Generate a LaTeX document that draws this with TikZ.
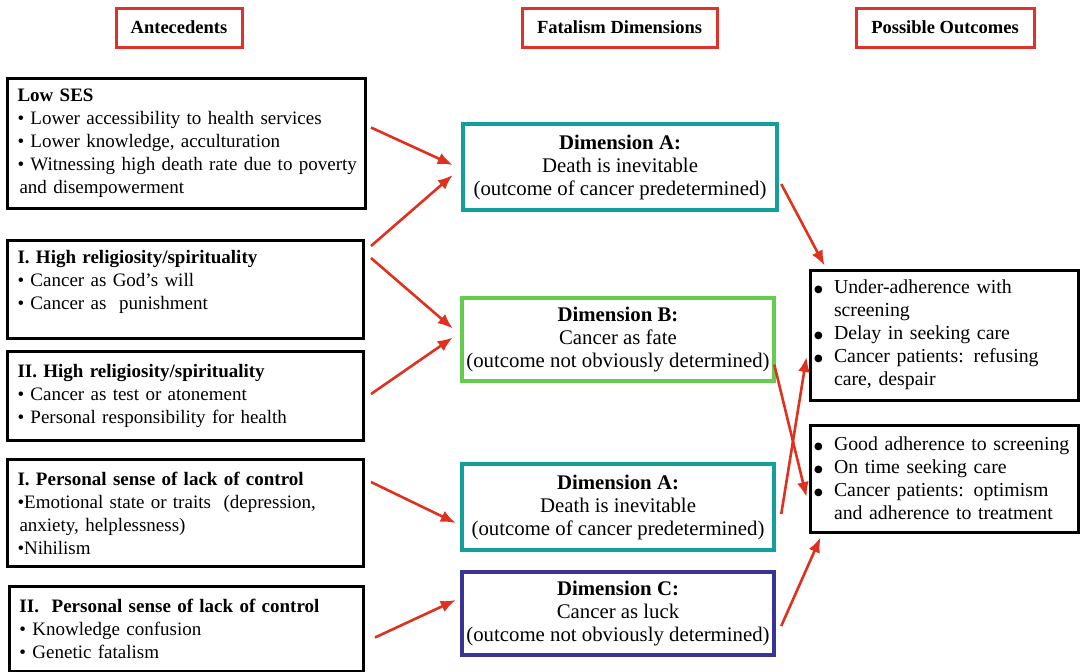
\documentclass[tikz,border=0pt]{standalone}
\usepackage{fontspec}
\setmainfont{Liberation Serif}
\newfontfamily\symfont{DejaVu Sans}
\usetikzlibrary{calc,arrows.meta}
\definecolor{hdred}{HTML}{DD3328}
\definecolor{arrred}{HTML}{E0301E}
\definecolor{dimteal}{HTML}{12A09A}
\definecolor{dimgreen}{HTML}{66CC50}
\definecolor{dimblue}{HTML}{3A3498}
\newcommand\bigdot{\makebox[20pt][l]{\raisebox{1pt}{\symfont\fontsize{10}{10}\selectfont ●}}}
\newcommand\contline{\hspace*{20pt}}
\tikzset{
  header/.style={draw=hdred, line width=3pt, font=\bfseries\fontsize{18.5}{22}\selectfont,
    minimum height=39pt, inner sep=0pt},
  antebox/.style={draw=black, line width=3pt, font=\fontsize{19}{23}\selectfont,
    align=left, text width=#1, anchor=north west, inner xsep=10pt, inner ysep=0pt},
  dimbox/.style={draw=#1, line width=4.5pt, font=\fontsize{20.8}{23}\selectfont,
    align=center, minimum width=312pt, minimum height=84pt, inner sep=0pt},
  outbox/.style={draw=black, line width=3pt, font=\fontsize{19.8}{23}\selectfont,
    align=left, text width=260pt, minimum width=268pt, inner xsep=4pt, inner ysep=0pt},
  link/.style={draw=arrred, line width=2.6pt, -{Latex[length=15pt,width=12pt]}},
}
\begin{document}
\begin{tikzpicture}[x=1pt,y=-1pt]
\useasboundingbox (0,0) rectangle (1080,672);

% column headings
\node[header, minimum width=126pt] (hant) at (179,27.5) {Antecedents};
\node[header, minimum width=195pt] (hfat) at (619.5,27.5) {Fatalism Dimensions};
\node[header, minimum width=178pt] (hpos) at (945,27.5) {Possible Outcomes};

% antecedents
\node[antebox=338pt, minimum height=130pt] (ses) at (6,77)
  {\textbf{Low SES}\\
   \textbullet\ Lower accessibility to health services\\
   \textbullet\ Lower knowledge, acculturation\\
   \mbox{\textbullet\ Witnessing high death rate due to poverty}\\
   \hspace*{2pt}and disempowerment};
\node[antebox=336pt, minimum height=98pt] (rel1) at (6,239)
  {\textbf{I. High religiosity/spirituality}\\
   \textbullet\ Cancer as God’s will\\
   \textbullet\ Cancer as\ \ punishment\rule[-19pt]{0pt}{0pt}};
\node[antebox=336pt, minimum height=89pt] (rel2) at (6,350)
  {\textbf{II. High religiosity/spirituality}\\
   \textbullet\ Cancer as test or atonement\\
   \textbullet\ Personal responsibility for health};
\node[antebox=336pt, minimum height=107pt] (ctl1) at (6,458)
  {\textbf{I. Personal sense of lack of control}\\
   \textbullet Emotional state or traits\ \ (depression,\\
   \hspace*{2pt}anxiety, helplessness)\\
   \textbullet Nihilism};
\node[antebox=334pt, minimum height=85pt] (ctl2) at (8,585)
  {\textbf{II.\ \ Personal sense of lack of control}\\
   \textbullet\ Knowledge confusion\\
   \textbullet\ Genetic fatalism};

% fatalism dimensions
\node[dimbox=dimteal, minimum width=314pt, minimum height=86pt] (dimA1) at (620,167)
  {\textbf{Dimension A:}\\ Death is inevitable\\ (outcome of cancer predetermined)};
\node[dimbox=dimgreen, minimum height=83pt] (dimB) at (618,339.5)
  {\textbf{Dimension B:}\\ Cancer as fate\\ (outcome not obviously determined)};
\node[dimbox=dimteal, minimum height=86pt] (dimA2) at (618,507)
  {\textbf{Dimension A:}\\ Death is inevitable\\ (outcome of cancer predetermined)};
\node[dimbox=dimblue, minimum height=83pt] (dimC) at (618,613.5)
  {\textbf{Dimension C:}\\ Cancer as luck\\ (outcome not obviously determined)};

% possible outcomes
\node[outbox, minimum height=130pt] (out1) at (944,335)
  {\bigdot Under-adherence with\\
   \contline screening\\
   \bigdot Delay in seeking care\\
   \bigdot Cancer patients: refusing\\
   \contline care, despair};
\node[outbox, minimum height=107pt] (out2) at (944,478.5)
  {\bigdot Good adherence to screening\\
   \bigdot On time seeking care\\
   \bigdot Cancer patients: optimism\\
   \contline and adherence to treatment};

% antecedents to dimensions
\draw[link] ($(ses.east)+(4,-16)$) -- ($(dimA1.west)+(-8,-2)$);
\draw[link] ($(rel1.north east)+(6,7)$) -- ($(dimA1.west)+(-8,8)$);
\draw[link] ($(rel1.north east)+(6,19)$) -- ($(dimB.west)+(-7,-11)$);
\draw[link] ($(rel2.east)+(6,-2)$) -- ($(dimB.west)+(-7,-2)$);
\draw[link] ($(ctl1.north east)+(6,24)$) -- ($(dimA2.west)+(-4,16)$);
\draw[link] ($(ctl2.east)+(10,8.5)$) -- ($(dimC.west)+(-4,-13.5)$);

% dimensions to outcomes
\draw[link] ($(dimA1.east)+(2,17)$) -- ($(out1.north west)+(16,-3)$);
\draw[link] ($(dimB.east)+(-2,25)$) -- ($(out2.west)+(-2,18.5)$);
\draw[link] ($(dimA2.east)+(5,7)$) -- ($(out1.west)+(-2,22)$);
\draw[link] ($(dimC.east)+(5,12.5)$) -- ($(out2.south west)+(12,4)$);
\end{tikzpicture}
\end{document}
